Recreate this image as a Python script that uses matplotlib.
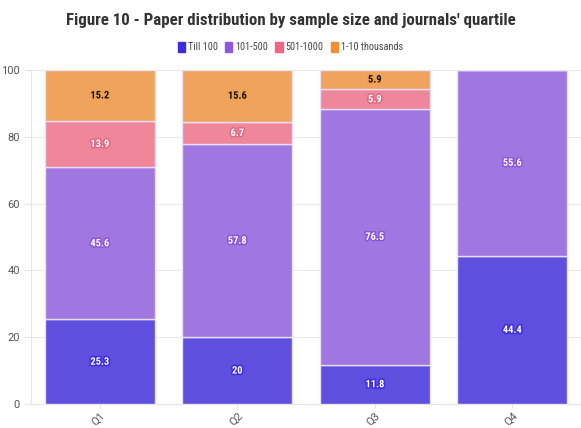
import matplotlib
matplotlib.use("Agg")
import matplotlib.pyplot as plt
import matplotlib.patheffects as pe
from matplotlib import font_manager
import numpy as np

plt.rcParams['font.family'] = ['Roboto', 'DejaVu Sans']

# prefer a condensed face when one is available
_names = {f.name for f in font_manager.fontManager.ttflist}
_cond = [n for n in ['Roboto Condensed', 'Liberation Sans Narrow', 'DejaVu Sans Condensed'] if n in _names]
narrow = _cond + ['Roboto', 'DejaVu Sans']
is_condensed = bool(_cond)

quartiles = ["Q1", "Q2", "Q3", "Q4"]
series_names = ["Till 100", "101-500", "501-1000", "1-10 thousands"]
till_100 = [25.3, 20, 11.8, 44.4]
r101_500 = [45.6, 57.8, 76.5, 55.6]
r501_1000 = [13.9, 6.7, 5.9, 0]
thousands = [15.2, 15.6, 5.9, 0]

bar_colors = ["#5f4fde", "#a076e1", "#ef8699", "#efa35c"]
legend_colors = ["#3d2be0", "#9257e2", "#ef6683", "#f28d36"]
text_colors = ["white", "white", "white", "#111111"]
glow_colors = ["#3d2be0", "#8a55d8", "#e06a85", "#f0a050"]

series = [till_100, r101_500, r501_1000, thousands]

fig = plt.figure(figsize=(5.81, 4.28), dpi=100)
ax = fig.add_axes([31 / 581, 1 - 404 / 428, 550 / 581, 334 / 428])

x = np.arange(len(quartiles))
bottom = np.zeros(len(quartiles))
for vals, col, tcol, gcol in zip(series, bar_colors, text_colors, glow_colors):
    vals = np.array(vals, dtype=float)
    ax.bar(x, vals, bottom=bottom, width=0.8, color=col,
           edgecolor="#e8e0f8", linewidth=1.0, zorder=3)
    for xi, v, b in zip(x, vals, bottom):
        if v > 0:
            ax.text(xi, b + v / 2, f"{v:g}", ha="center", va="center",
                    fontsize=7.5, fontweight="bold", color=tcol, zorder=4,
                    family=narrow,
                    path_effects=[pe.withStroke(linewidth=2.2, foreground=gcol)])
    bottom += vals

ax.set_xlim(-0.5, 3.5)
ax.set_ylim(0, 100)
ax.set_yticks([0, 20, 40, 60, 80, 100])
ax.set_xticks(x)
ax.set_xticklabels(quartiles, rotation=45, ha="right", va="top", rotation_mode="anchor")
ax.tick_params(axis="both", colors="#e6e6e6", labelcolor="#555555", labelsize=8)
ax.tick_params(axis="y", length=5, pad=3)
ax.tick_params(axis="x", length=3, pad=2)
ax.grid(axis="y", color="#eaeaea", linewidth=0.8, zorder=0)
for side in ["top", "right"]:
    ax.spines[side].set_visible(False)
ax.spines["left"].set_color("#e6e6e6")
ax.spines["bottom"].set_color("#e6e6e6")

fig.text(0.5, 1 - 20 / 428, "Figure 10 - Paper distribution by sample size and journals' quartile",
         ha="center", va="center", fontsize=12.2 if is_condensed else 10,
         fontweight="bold", color="#333333", family=narrow)

# legend row
handles = [plt.Rectangle((0, 0), 1, 1, color=c) for c in legend_colors]
leg = fig.legend(handles, series_names, loc="center", bbox_to_anchor=(0.5, 1 - 47 / 428),
                 ncol=4, frameon=False, handlelength=0.7, handleheight=1.1,
                 handletextpad=0.3, columnspacing=0.7,
                 prop={'family': narrow, 'size': 7.3 if is_condensed else 6.8})
for t in leg.get_texts():
    t.set_color("#444444")

fig.savefig("out.png", dpi=100)
